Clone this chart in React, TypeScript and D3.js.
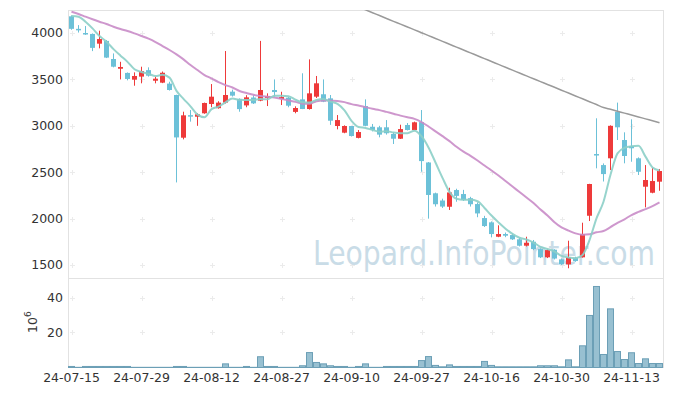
import React, { useEffect, useRef } from 'react';
import * as d3 from 'd3';

// trading days (yy-mm-dd)
const dates = [
  '24-07-15', '24-07-16', '24-07-17', '24-07-18', '24-07-19', '24-07-22', '24-07-23', '24-07-24', '24-07-25', '24-07-26',
  '24-07-29', '24-07-30', '24-07-31', '24-08-01', '24-08-02', '24-08-05', '24-08-06', '24-08-07', '24-08-08', '24-08-09',
  '24-08-12', '24-08-13', '24-08-14', '24-08-16', '24-08-19', '24-08-20', '24-08-21', '24-08-22', '24-08-23', '24-08-26',
  '24-08-27', '24-08-28', '24-08-29', '24-08-30', '24-09-02', '24-09-03', '24-09-04', '24-09-05', '24-09-06', '24-09-09',
  '24-09-10', '24-09-11', '24-09-12', '24-09-13', '24-09-19', '24-09-20', '24-09-23', '24-09-24', '24-09-25', '24-09-26',
  '24-09-27', '24-09-30', '24-10-02', '24-10-04', '24-10-07', '24-10-08', '24-10-10', '24-10-11', '24-10-14', '24-10-15',
  '24-10-16', '24-10-17', '24-10-18', '24-10-21', '24-10-22', '24-10-23', '24-10-24', '24-10-25', '24-10-28', '24-10-29',
  '24-10-30', '24-10-31', '24-11-01', '24-11-04', '24-11-05', '24-11-06', '24-11-07', '24-11-08', '24-11-11', '24-11-12',
  '24-11-13', '24-11-14', '24-11-15', '24-11-18', '24-11-19',
];

const opens = [
  4180, 4045, 4000, 3990, 3885, 3915, 3720, 3615, 3570, 3497,
  3530, 3600, 3486, 3465, 3455, 3332, 2872, 3115, 3098, 3135,
  3235, 3190, 3250, 3368, 3290, 3220, 3305, 3271, 3300, 3386,
  3289, 3303, 3150, 3285, 3181, 3314, 3340, 3296, 2998, 2926,
  2998, 2870, 3213, 2990, 2984, 2984, 2912, 2861, 3009, 2955,
  3040, 2605, 2273, 2195, 2128, 2308, 2265, 2220, 2157, 2006,
  1960, 1805, 1834, 1823, 1777, 1708, 1751, 1672, 1583, 1665,
  1561, 1507, 1579, 1583, 2031, 2696, 2577, 2650, 3152, 2847,
  2782, 2650, 2344, 2279, 2398,
];

const highs = [
  4190, 4085, 4075, 3995, 4025, 3925, 3780, 3690, 3575, 3576,
  3637, 3630, 3530, 3585, 3475, 3335, 3152, 3170, 3135, 3250,
  3450, 3265, 3806, 3390, 3295, 3330, 3330, 3915, 3350, 3500,
  3367, 3310, 3210, 3566, 3716, 3537, 3500, 3332, 3116, 3005,
  3000, 2955, 3285, 3020, 3000, 3062, 2930, 3012, 3030, 3045,
  3170, 2610, 2280, 2215, 2333, 2322, 2310, 2235, 2175, 2030,
  1970, 1928, 1850, 1840, 1795, 1805, 1770, 1680, 1670, 1670,
  1570, 1762, 1590, 1956, 2375, 3081, 2595, 3005, 3250, 2930,
  3070, 2660, 2577, 2545, 2535,
];

const lows = [
  4035, 4005, 3980, 3805, 3835, 3730, 3630, 3500, 3490, 3432,
  3458, 3530, 3458, 3460, 3380, 2390, 2854, 3045, 3000, 3130,
  3200, 3185, 3240, 3315, 3152, 3200, 3235, 3265, 3213, 3314,
  3224, 3200, 3135, 3180, 3175, 3300, 3255, 3010, 2962, 2920,
  2885, 2865, 2995, 2940, 2876, 2905, 2804, 2858, 2950, 2950,
  2505, 2000, 2130, 2115, 2093, 2182, 2190, 2130, 2015, 1910,
  1798, 1800, 1800, 1770, 1700, 1700, 1660, 1575, 1575, 1560,
  1500, 1465, 1535, 1580, 1974, 2542, 2400, 2524, 2847, 2596,
  2613, 2470, 2121, 2273, 2300,
];

const closes = [
  4045, 4035, 3985, 3840, 3935, 3735, 3637, 3634, 3505, 3537,
  3590, 3540, 3508, 3572, 3386, 2875, 3113, 3105, 3124, 3246,
  3314, 3250, 3332, 3325, 3180, 3307, 3242, 3386, 3321, 3364,
  3310, 3217, 3192, 3181, 3350, 3458, 3260, 3055, 3062, 2998,
  2890, 2933, 3000, 2955, 2905, 2920, 2861, 2965, 2955, 3038,
  2620, 2255, 2155, 2130, 2282, 2245, 2200, 2155, 2056, 1920,
  1834, 1834, 1816, 1777, 1708, 1740, 1672, 1583, 1661, 1570,
  1507, 1583, 1543, 1834, 2373, 2680, 2480, 3000, 2984, 2675,
  2758, 2505, 2416, 2405, 2513,
];

// volume, 10^6 shares
const volumes = [
  0.6, 0.1, 0.6, 0.6, 0.6, 0.6, 0.6, 0.6, 0.6, 0.1,
  0.1, 0.1, 0.1, 0.1, 0.1, 0.6, 0.6, 0.1, 0.1, 0.1,
  0.1, 0.1, 2.1, 0.1, 0.1, 0.6, 0.1, 6.2, 0.6, 0.6,
  0.1, 0.1, 0.1, 1.0, 8.6, 2.9, 2.1, 1.0, 0.6, 0.6,
  0.1, 0.6, 2.1, 0.1, 0.1, 0.6, 0.6, 0.6, 0.6, 0.6,
  4.0, 6.3, 1.2, 0.4, 1.5, 0.6, 0.6, 0.6, 0.6, 3.5,
  1.2, 0.4, 0.4, 0.4, 0.4, 0.4, 0.4, 1.0, 1.0, 1.0,
  0.4, 4.4, 0.4, 12.5, 30.0, 46.7, 7.5, 33.8, 9.2, 4.6,
  8.5, 2.3, 5.0, 2.3, 2.3,
];

// moving average values before enough closes are on screen
const ma5Head = [4183, 4176, 4122, 4050];
const ma20Head = [
  4230, 4205, 4176, 4148, 4122, 4097, 4068, 4043, 4022, 3996,
  3968, 3939, 3903, 3860, 3817, 3770, 3716, 3655, 3601,
];

// long moving average, visible from index 41 on
const maLongStart = 41;
const maLong = [
  4281, 4250, 4219, 4188, 4157, 4126, 4096, 4065, 4034, 4003,
  3972, 3941, 3910, 3879, 3848, 3817, 3786, 3755, 3724, 3693,
  3662, 3631, 3600, 3569, 3538, 3507, 3476, 3446, 3415, 3384,
  3353, 3322, 3291, 3260, 3229, 3198, 3178, 3157, 3137, 3116,
  3096, 3075, 3055, 3034,
];

const priceTicks = [1500, 2000, 2500, 3000, 3500, 4000];
const volumeTicks = [20, 40];

const movingAverage = (values: number[], n: number, head: number[]) =>
  values.map((v, i) => (i < n - 1 ? head[i] : d3.mean(values.slice(i - n + 1, i + 1)) as number));

const App: React.FC = () => {
  const chartRef = useRef<SVGSVGElement>(null);

  useEffect(() => {
    const svg = d3.select(chartRef.current);
    svg.selectAll('*').remove();

    const left = 68;
    const right = 663;
    const mainTop = 10;
    const mainBottom = 277;
    const volTop = 278;
    const volBottom = 367;
    const font = '"DejaVu Sans", sans-serif';

    const x = d3.scaleBand().domain(dates).range([left, right]).padding(0);
    const bw = x.bandwidth();
    const cx = (i: number) => (x(dates[i]) as number) + bw / 2;

    const y = d3.scaleLinear().domain([1371, 4248]).range([mainBottom, mainTop]);
    const yVol = d3.scaleLinear().domain([0, 51.3]).range([volBottom, volTop]);

    svg.append('defs').append('clipPath').attr('id', 'mainClip')
      .append('rect').attr('x', left).attr('y', mainTop).attr('width', right - left).attr('height', mainBottom - mainTop);

    // frame lines
    const frame = svg.append('g').attr('stroke', '#e2e2e2').attr('stroke-width', 1);
    frame.append('line').attr('x1', left + 0.5).attr('x2', left + 0.5).attr('y1', mainTop).attr('y2', volBottom + 1);
    frame.append('line').attr('x1', right + 0.5).attr('x2', right + 0.5).attr('y1', mainTop).attr('y2', volBottom + 1);
    frame.append('line').attr('x1', left).attr('x2', right + 1).attr('y1', mainTop + 0.5).attr('y2', mainTop + 0.5);
    frame.append('line').attr('x1', left).attr('x2', right + 1).attr('y1', volTop + 0.5).attr('y2', volTop + 0.5);
    frame.append('line').attr('x1', left).attr('x2', right + 1).attr('y1', volBottom + 0.5).attr('y2', volBottom + 0.5);

    // grid crosses
    const tickIdx = d3.range(0, dates.length, 10);
    const crossYs = [...priceTicks.map((t) => y(t)), ...volumeTicks.map((t) => yVol(t))];
    const crosses = svg.append('g').attr('stroke', '#ebebeb').attr('stroke-width', 1);
    tickIdx.forEach((i) => {
      crossYs.forEach((cy) => {
        const px = Math.round(cx(i)) + 0.5;
        const py = Math.round(cy) + 0.5;
        crosses.append('line').attr('x1', px - 2.5).attr('x2', px + 2.5).attr('y1', py).attr('y2', py);
        crosses.append('line').attr('x1', px).attr('x2', px).attr('y1', py - 2.5).attr('y2', py + 2.5);
      });
    });

    // watermark
    svg.append('text')
      .attr('x', 313).attr('y', 265)
      .attr('textLength', 342).attr('lengthAdjust', 'spacingAndGlyphs')
      .style('font-family', font).style('font-size', '33px')
      .attr('fill', '#c9dce7')
      .text('Leopard.InfoPointer.com');

    // candles
    const main = svg.append('g').attr('clip-path', 'url(#mainClip)');
    const up = '#ee3a3a';
    const down = '#6cc1d8';
    const candles = main.selectAll('g.candle').data(dates).enter().append('g');
    candles.append('line')
      .attr('x1', (d, i) => cx(i)).attr('x2', (d, i) => cx(i))
      .attr('y1', (d, i) => y(highs[i])).attr('y2', (d, i) => y(lows[i]))
      .attr('stroke', (d, i) => (closes[i] >= opens[i] ? up : down))
      .attr('stroke-width', 1);
    candles.append('rect')
      .attr('x', (d, i) => cx(i) - 2.5)
      .attr('width', 5)
      .attr('y', (d, i) => y(Math.max(opens[i], closes[i])))
      .attr('height', (d, i) => Math.max(1.5, Math.abs(y(opens[i]) - y(closes[i]))))
      .attr('fill', (d, i) => (closes[i] >= opens[i] ? up : down));

    // moving averages
    const ma5 = movingAverage(closes, 5, ma5Head);
    const ma20 = movingAverage(closes, 20, ma20Head);
    const line = d3.line<number>()
      .x((d, i) => cx(i))
      .y((d) => y(d))
      .curve(d3.curveMonotoneX);
    const lineLong = d3.line<number>()
      .x((d, i) => cx(i + maLongStart))
      .y((d) => y(d))
      .curve(d3.curveMonotoneX);

    main.append('path').attr('d', line(ma20)).attr('fill', 'none')
      .attr('stroke', '#c98cc8').attr('stroke-width', 2).attr('opacity', 0.9);
    main.append('path').attr('d', line(ma5)).attr('fill', 'none')
      .attr('stroke', '#8ccfc8').attr('stroke-width', 2).attr('opacity', 0.9);
    main.append('path').attr('d', lineLong(maLong)).attr('fill', 'none')
      .attr('stroke', '#9a9a9a').attr('stroke-width', 1.5);

    // volume bars
    svg.append('g').selectAll('rect').data(volumes).enter().append('rect')
      .attr('x', (d, i) => (x(dates[i]) as number) + 0.5)
      .attr('width', bw - 1)
      .attr('y', (d) => yVol(d) + 0.5)
      .attr('height', (d) => Math.max(0, volBottom - yVol(d)))
      .attr('fill', '#98c0d1')
      .attr('stroke', '#6c9fb6')
      .attr('stroke-width', 1);

    // axis labels
    svg.append('g').selectAll('text').data(priceTicks).enter().append('text')
      .attr('x', 63).attr('y', (d) => y(d)).attr('dy', '0.35em')
      .attr('text-anchor', 'end')
      .style('font-family', font).style('font-size', '12.5px').attr('fill', '#333')
      .text((d) => d);

    svg.append('g').selectAll('text').data(volumeTicks).enter().append('text')
      .attr('x', 63).attr('y', (d) => yVol(d)).attr('dy', '0.35em')
      .attr('text-anchor', 'end')
      .style('font-family', font).style('font-size', '12.5px').attr('fill', '#333')
      .text((d) => d);

    svg.append('g').selectAll('text').data(tickIdx).enter().append('text')
      .attr('x', (d) => cx(d)).attr('y', 382)
      .attr('text-anchor', 'middle')
      .style('font-family', font).style('font-size', '12.5px').attr('fill', '#333')
      .text((d) => dates[d]);

    const unit = svg.append('text')
      .attr('transform', 'translate(37,333) rotate(-90)')
      .style('font-family', font).style('font-size', '12.5px').attr('fill', '#333');
    unit.append('tspan').text('10');
    unit.append('tspan').attr('dy', -6).style('font-size', '9px').text('6');
  }, []);

  return (
    <svg
      ref={chartRef}
      width={673}
      height={396}
      style={{ position: 'absolute', left: 0, top: 0, background: '#fff' }}
    />
  );
};

export default App;
